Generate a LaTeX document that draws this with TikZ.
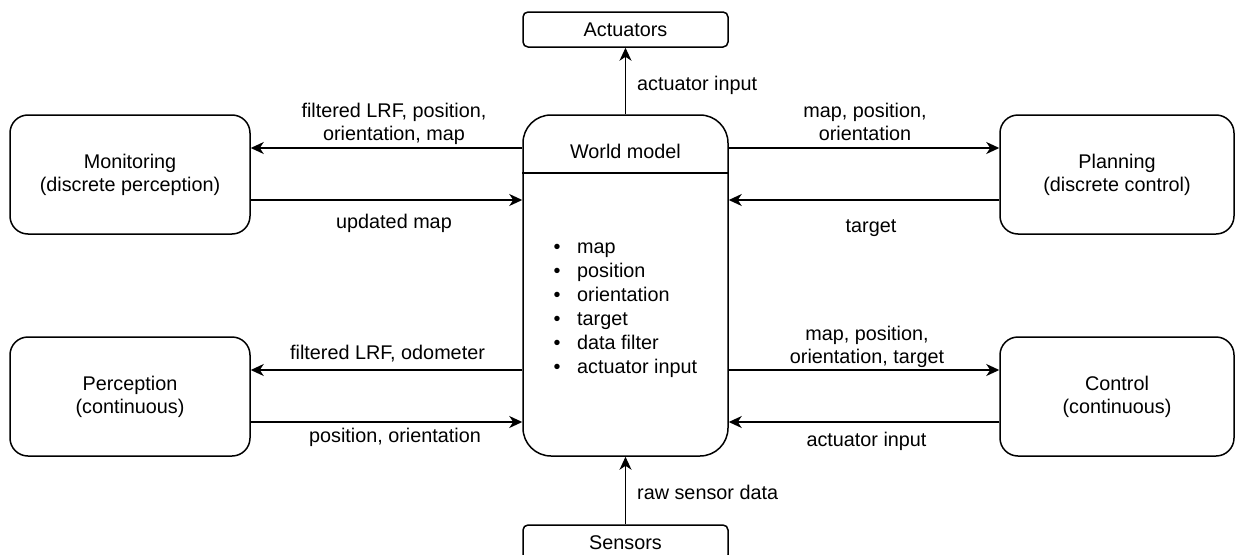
\documentclass[tikz,border=0pt]{standalone}
\usepackage{fontspec}
\setmainfont{Liberation Sans}
\usetikzlibrary{arrows.meta}

\begin{document}
\begin{tikzpicture}[x=1pt, y=-1pt,
  every node/.style={font=\fontsize{19.8}{23}\selectfont, inner sep=0pt},
  box/.style={draw, line width=1.5pt, rounded corners=18pt, align=center, minimum height=119pt},
  smallbox/.style={draw, line width=1.5pt, rounded corners=5pt, minimum width=205pt, minimum height=35pt},
  arr/.style={line width=1.5pt, -{Stealth[length=13pt, width=12pt, inset=4pt]}},
  lbl/.style={text height=14.5pt, text depth=4.2pt},
  lbltwo/.style={align=center},
]
\useasboundingbox (0,0) rectangle (1236,554);

% side modules
\node[box, minimum width=240pt] (mon)  at (130,174.5)  {Monitoring\\(discrete perception)};
\node[box, minimum width=234pt] (plan) at (1117,174.5) {Planning\\(discrete control)};
\node[box, minimum width=240pt] (perc) at (130,396.5)  {Perception\\(continuous)};
\node[box, minimum width=234pt] (ctrl) at (1117,396.5) {Control\\(continuous)};

% central world model
\node[draw, line width=1.5pt, rounded corners=28pt, minimum width=205pt, minimum height=341pt] (wm) at (625.5,285.5) {};
\coordinate (hdr) at (0,173);
\draw[line width=1.5pt] (wm.west |- hdr) -- (wm.east |- hdr);
\node (wmt) at (625.5,151) {World model};
\node[anchor=west, align=left, font=\fontsize{19.8}{24}\selectfont] (wml) at (553.5,310)
  {\makebox[23.5pt][l]{\textbullet}map\\
   \makebox[23.5pt][l]{\textbullet}position\\
   \makebox[23.5pt][l]{\textbullet}orientation\\
   \makebox[23.5pt][l]{\textbullet}target\\
   \makebox[23.5pt][l]{\textbullet}data filter\\
   \makebox[23.5pt][l]{\textbullet}actuator input};

% hardware
\node[smallbox] (act)  at (625.5,29.5)  {Actuators};
\node[smallbox] (sens) at (625.5,542.5) {Sensors};

% connector rows
\coordinate (r1) at (0,148);
\coordinate (r2) at (0,200);
\coordinate (r3) at (0,370);
\coordinate (r4) at (0,422);

\draw[arr] (wm.west |- r1) -- (mon.east |- r1);
\draw[arr] (mon.east |- r2) -- (wm.west |- r2);
\draw[arr] (wm.east |- r1) -- (plan.west |- r1);
\draw[arr] (plan.west |- r2) -- (wm.east |- r2);
\draw[arr] (wm.west |- r3) -- (perc.east |- r3);
\draw[arr] (perc.east |- r4) -- (wm.west |- r4);
\draw[arr] (wm.east |- r3) -- (ctrl.west |- r3);
\draw[arr] (ctrl.west |- r4) -- (wm.east |- r4);
\draw[arr] (wm.north) -- (act.south);
\draw[arr] (sens.north) -- (wm.south);

% connector labels
\node[lbltwo] (l1) at (394,123.5) {filtered LRF, position,\\orientation, map};
\node[lbl] (l2) at (394,223) {updated map};
\node[lbltwo] (l3) at (865,121.5) {map, position,\\orientation};
\node[lbl] (l4) at (871,227) {target};
\node[lbl] (l5) at (387.5,354) {filtered LRF, odometer};
\node[lbl] (l6) at (395,437) {position, orientation};
\node[lbltwo] (l7) at (867,346.5) {map, position,\\orientation, target};
\node[lbl] (l8) at (866.5,441) {actuator input};
\node[lbl, anchor=west] (l9) at (637,85) {actuator input};
\node[lbl, anchor=west] (l10) at (637,494) {raw sensor data};
\end{tikzpicture}
\end{document}
